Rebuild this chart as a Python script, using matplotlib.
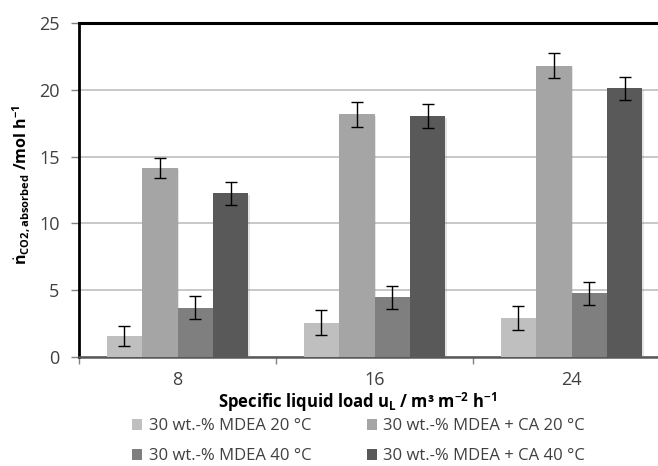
import matplotlib
matplotlib.use("Agg")
import matplotlib.pyplot as plt
import matplotlib.patheffects as pe
from matplotlib.patches import Patch
import numpy as np

plt.rcParams['font.family'] = ['Open Sans', 'DejaVu Sans']
plt.rcParams['mathtext.fontset'] = 'custom'
plt.rcParams['mathtext.rm'] = 'Open Sans'
plt.rcParams['mathtext.bf'] = 'Open Sans:bold'
plt.rcParams['mathtext.it'] = 'Open Sans:italic'

# Daten: absorbierter CO2-Strom je Flüssigkeitsbelastung
loads = ['8', '16', '24']
series_names = ['30 wt.-% MDEA 20 °C', '30 wt.-% MDEA + CA 20 °C',
                '30 wt.-% MDEA 40 °C', '30 wt.-% MDEA + CA 40 °C']
mdea_20 = [1.55, 2.55, 2.88]
mdea_ca_20 = [14.15, 18.18, 21.83]
mdea_40 = [3.68, 4.45, 4.75]
mdea_ca_40 = [12.25, 18.03, 20.13]
err_mdea_20 = [0.75, 0.94, 0.9]
err_mdea_ca_20 = [0.75, 0.95, 0.92]
err_mdea_40 = [0.87, 0.86, 0.87]
err_mdea_ca_40 = [0.85, 0.89, 0.85]

values = [mdea_20, mdea_ca_20, mdea_40, mdea_ca_40]
errors = [err_mdea_20, err_mdea_ca_20, err_mdea_40, err_mdea_ca_40]
colors = ['#bfbfbf', '#a5a5a5', '#7f7f7f', '#595959']
text_color = '#404040'

W, H = 658, 466
fig = plt.figure(figsize=(W / 100, H / 100), dpi=100)
# Achsenbereich in Pixeln (rechts über den Bildrand hinaus)
left, right, top, bottom = 79, 670, 23.3, 356.7
ax = fig.add_axes([left / W, 1 - bottom / H, (right - left) / W, (bottom - top) / H])

x = np.arange(len(loads))
width = 0.18
shadow = [pe.SimplePatchShadow(offset=(1, -1), shadow_rgbFace='#808080', alpha=0.2), pe.Normal()]
for i in range(4):
    pos = x + (i - 1.5) * width
    bars = ax.bar(pos, values[i], width, color=colors[i], zorder=3)
    for b in bars:
        b.set_path_effects(shadow)
    ax.errorbar(pos, values[i], yerr=errors[i], fmt='none', ecolor='black',
                elinewidth=1.0, capsize=4, capthick=1.0, zorder=4)

ax.set_xlim(-0.5, 2.5)
ax.set_ylim(0, 25)
ax.set_yticks(np.arange(0, 26, 5))
ax.yaxis.grid(True, color='#bfbfbf', linewidth=1.2, zorder=0)
ax.set_axisbelow(True)

# Teilstriche zwischen den Gruppen, Beschriftung in der Mitte
ax.set_xticks([-0.5, 0.5, 1.5])
ax.set_xticklabels([])
ax.set_xticks(x, minor=True)
ax.set_xticklabels(loads, minor=True)
ax.tick_params(axis='x', which='major', length=5, width=1, color='#808080')
ax.tick_params(axis='x', which='minor', length=0, pad=10, labelsize=13, labelcolor=text_color)
ax.tick_params(axis='y', length=6, width=1, color='#808080', pad=8, labelsize=13, labelcolor=text_color)

ax.spines['left'].set_color('black')
ax.spines['left'].set_linewidth(2)
ax.spines['top'].set_color('black')
ax.spines['top'].set_linewidth(2.2)
ax.spines['bottom'].set_color('#595959')
ax.spines['bottom'].set_linewidth(1.8)
ax.spines['right'].set_visible(False)

fig.text(21 / W, 1 - 185 / H,
         r'$\mathbf{\dot{n}_{CO2,absorbed}}$ /mol h$^{\mathbf{-1}}$',
         rotation=90, ha='center', va='center', fontsize=11.5, fontweight='bold', color='black')
fig.text(357 / W, 1 - 402 / H,
         r'Specific liquid load u$_{\mathbf{L}}$ / m³ m$^{\mathbf{-2}}$ h$^{\mathbf{-1}}$',
         ha='center', va='center', fontsize=12, fontweight='bold', color='black')

handles = [Patch(facecolor=c, edgecolor='none') for c in colors]
order = [0, 2, 1, 3]
fig.legend([handles[i] for i in order], [series_names[i] for i in order],
           loc='upper left', bbox_to_anchor=(124 / W, 1 - 410 / H), ncol=2,
           frameon=False, fontsize=12, labelcolor=text_color,
           handlelength=0.6, handleheight=0.6, handletextpad=0.4,
           columnspacing=3.3, labelspacing=0.85, borderpad=0)

fig.savefig('out.png', dpi=100)
